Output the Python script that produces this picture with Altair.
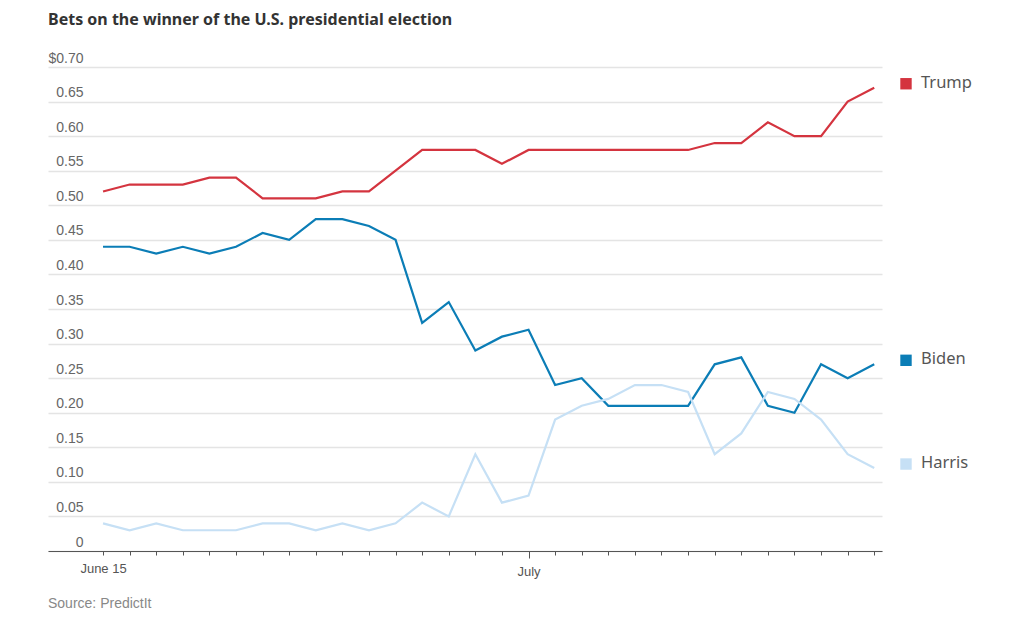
import altair as alt
import pandas as pd

# Daily PredictIt share prices, June 15 to July 14
dates = pd.date_range("2024-06-15", "2024-07-14", freq="D").strftime("%Y-%m-%d").tolist()

trump = [0.52, 0.53, 0.53, 0.53, 0.54, 0.54, 0.51, 0.51, 0.51, 0.52,
         0.52, 0.55, 0.58, 0.58, 0.58, 0.56, 0.58, 0.58, 0.58, 0.58,
         0.58, 0.58, 0.58, 0.59, 0.59, 0.62, 0.60, 0.60, 0.65, 0.67]
biden = [0.44, 0.44, 0.43, 0.44, 0.43, 0.44, 0.46, 0.45, 0.48, 0.48,
         0.47, 0.45, 0.33, 0.36, 0.29, 0.31, 0.32, 0.24, 0.25, 0.21,
         0.21, 0.21, 0.21, 0.27, 0.28, 0.21, 0.20, 0.27, 0.25, 0.27]
harris = [0.04, 0.03, 0.04, 0.03, 0.03, 0.03, 0.04, 0.04, 0.03, 0.04,
          0.03, 0.04, 0.07, 0.05, 0.14, 0.07, 0.08, 0.19, 0.21, 0.22,
          0.24, 0.24, 0.23, 0.14, 0.17, 0.23, 0.22, 0.19, 0.14, 0.12]

candidates = ["Trump", "Biden", "Harris"]
colors = ["#d4343f", "#0b7db6", "#c6e0f5"]
y_ticks = [0.0, 0.05, 0.10, 0.15, 0.20, 0.25, 0.30, 0.35, 0.40, 0.45, 0.50, 0.55, 0.60, 0.65, 0.70]

rows = []
for name, series in zip(candidates, [trump, biden, harris]):
    for d, v in zip(dates, series):
        rows.append({"date": d, "candidate": name, "price": v})
df = pd.DataFrame(rows)
last = df[df["date"] == dates[-1]].copy()

source = pd.DataFrame({"note": ["Source: PredictIt"]})

W, H = 834, 484
FONT = "Liberation Sans"
color_scale = alt.Scale(domain=candidates, range=colors)
y_scale = alt.Scale(domain=[0, 0.70], nice=False, zero=True)

day_ticks = [alt.DateTime(year=2024, month=6, date=d) for d in range(15, 31)] + \
            [alt.DateTime(year=2024, month=7, date=d) for d in range(1, 15)]

x_enc = alt.X(
    "date:T",
    scale=alt.Scale(domain=["2024-06-12T22:20:00", "2024-07-14T07:00:00"]),
    axis=alt.Axis(
        title=None,
        values=day_ticks,
        labelExpr="(month(datum.value) == 5 && date(datum.value) == 15) ? 'June 15' : "
                  "(month(datum.value) == 6 && date(datum.value) == 1) ? 'July' : ''",
        grid=False,
        domainColor="#555555",
        domainWidth=1.2,
        tickColor="#555555",
        tickSize={"condition": {"test": "month(datum.value) == 6 && date(datum.value) == 1",
                                "value": 7}, "value": 4},
        labelFont=FONT,
        labelFontSize=13,
        labelColor="#555555",
        labelPadding=7,
        labelFlush=False,
        labelOverlap=False,
    ),
)

y_axis = alt.Axis(
    title=None,
    values=y_ticks,
    labelExpr="datum.value >= 0.699 ? '$0.70' : (datum.value == 0 ? '0' : format(datum.value, '.2f'))",
    domain=False,
    ticks=False,
    gridColor="#e4e4e4",
    gridWidth=1.3,
    labelAlign="right",
    labelBaseline="bottom",
    labelPadding=-35,
    labelOffset=-2,
    labelOverlap=False,
    labelFont=FONT,
    labelFontSize=14,
    labelColor="#666666",
)
y_enc = alt.Y("price:Q", scale=y_scale, axis=y_axis)

lines = alt.Chart(df).mark_line(strokeWidth=2.2).encode(
    x=x_enc,
    y=y_enc,
    color=alt.Color("candidate:N", scale=color_scale, legend=None),
    order=alt.Order("date:T"),
)

# End-of-line labels: a colored square and the candidate's name
squares = alt.Chart(last).mark_square(size=130, opacity=1, filled=True).encode(
    x=alt.value(W + 24),
    y=y_enc,
    yOffset=alt.value(-4),
    color=alt.Color("candidate:N", scale=color_scale, legend=None),
)
names = alt.Chart(last).mark_text(
    align="left", baseline="middle", font="Noto Sans", fontSize=16.5, color="#555555", dy=-5
).encode(
    x=alt.value(W + 39),
    y=y_enc,
    text="candidate:N",
)

note = alt.Chart(source).mark_text(
    align="left", baseline="middle", font=FONT, fontSize=14, color="#888888"
).encode(
    x=alt.value(0),
    y=alt.value(H + 53),
    text="note:N",
)

chart = alt.layer(lines, squares, names, note).properties(
    width=W,
    height=H,
    title=alt.TitleParams(
        "Bets on the winner of the U.S. presidential election",
        anchor="start",
        frame="group",
        font="Noto Sans",
        fontSize=16,
        fontWeight="bold",
        color="#333333",
        offset=23,
    ),
    padding={"left": 48, "top": 67, "right": 142, "bottom": 70},
    autosize=alt.AutoSizeParams(type="none"),
).configure_view(stroke=None)

chart.save("out.html", embed_options={"renderer": "svg", "actions": False})
